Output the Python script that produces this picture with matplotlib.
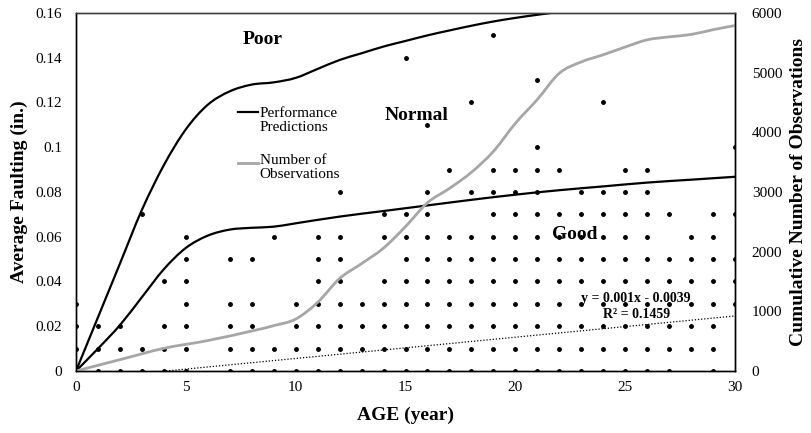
import matplotlib
matplotlib.use("Agg")
import matplotlib.pyplot as plt
from matplotlib.path import Path
from matplotlib.patches import PathPatch

plt.rcParams['font.family'] = ['Liberation Serif', 'DejaVu Serif']

# observed faulting, ages (year) at which a dot appears for each faulting level
ages_f000 = [0, 1, 2, 3, 4, 5] + list(range(7, 28)) + [29]
ages_f001 = [0, 1, 2, 3, 4, 5] + list(range(7, 30))
ages_f002 = [0, 1, 2, 4, 5, 7, 8] + list(range(10, 30))
ages_f003 = [0, 5, 7, 8] + list(range(10, 31))
ages_f004 = [4, 5, 11, 12] + list(range(14, 31))
ages_f005 = [5, 7, 8, 11, 12] + list(range(15, 31))
ages_f006 = [5, 9, 11, 12] + list(range(14, 27)) + [28, 29]
ages_f007 = [3, 14, 15, 16] + list(range(19, 28)) + [29, 30]
ages_f008 = [12, 16, 18, 19, 20, 21, 23, 24, 25, 26]
ages_f009 = [17, 19, 20, 21, 22, 25, 26]
ages_f010 = [21, 30]
ages_f011 = [16]
ages_f012 = [18, 24]
ages_f013 = [21]
ages_f014 = [15]
ages_f015 = [19]
fault_levels = [0.0, 0.01, 0.02, 0.03, 0.04, 0.05, 0.06, 0.07,
                0.08, 0.09, 0.10, 0.11, 0.12, 0.13, 0.14, 0.15]

# performance prediction curves
upper_age = [0, 1, 2, 3, 4, 5, 6, 7, 8, 9, 10, 11, 12, 13, 14, 15, 16, 17,
             18, 19, 20, 21, 22, 23]
upper_fault = [0, 0.024, 0.048, 0.072, 0.092, 0.108, 0.119, 0.125, 0.128,
               0.129, 0.131, 0.135, 0.139, 0.142, 0.145, 0.1475, 0.150,
               0.1522, 0.1543, 0.1562, 0.1578, 0.1592, 0.1605, 0.1618]
lower_age = [0, 1, 2, 3, 4, 5, 6, 7, 8, 9, 10, 12, 14, 16, 18, 20, 22, 24,
             26, 28, 30]
lower_fault = [0, 0.010, 0.0205, 0.033, 0.0455, 0.055, 0.0605, 0.0632, 0.064,
               0.0645, 0.066, 0.069, 0.0715, 0.074, 0.0765, 0.0788, 0.0808,
               0.0825, 0.0842, 0.0855, 0.0868]

# cumulative number of observations
obs_age = [0, 2, 4, 6, 8, 9, 10, 11, 12, 13, 14, 15, 16, 17, 18, 19, 20, 21,
           22, 23, 24, 25, 26, 27, 28, 29, 30]
obs_count = [0, 190, 380, 510, 670, 760, 870, 1150, 1550, 1800, 2060, 2420,
             2820, 3060, 3330, 3680, 4150, 4550, 4990, 5180, 5300, 5430,
             5550, 5600, 5640, 5720, 5790]

# linear trend end points
trend_age = [4.1, 30]
trend_fault = [0.0, 0.0246]


def smooth_path(xs, ys):
    # Excel style "smoothed line": cubic bezier through every point
    pts = list(zip(xs, ys))
    n = len(pts)
    verts = [pts[0]]
    codes = [Path.MOVETO]
    for i in range(n - 1):
        p0 = pts[i - 1] if i > 0 else pts[i]
        p1 = pts[i]
        p2 = pts[i + 1]
        p3 = pts[i + 2] if i + 2 < n else pts[i + 1]
        c1 = (p1[0] + (p2[0] - p0[0]) / 6, p1[1] + (p2[1] - p0[1]) / 6)
        c2 = (p2[0] - (p3[0] - p1[0]) / 6, p2[1] - (p3[1] - p1[1]) / 6)
        verts += [c1, c2, p2]
        codes += [Path.CURVE4] * 3
    return Path(verts, codes)


all_rows = [ages_f000, ages_f001, ages_f002, ages_f003, ages_f004, ages_f005,
            ages_f006, ages_f007, ages_f008, ages_f009, ages_f010, ages_f011,
            ages_f012, ages_f013, ages_f014, ages_f015]
dot_x = []
dot_y = []
for lvl, row in zip(fault_levels, all_rows):
    dot_x += row
    dot_y += [lvl] * len(row)

fig = plt.figure(figsize=(8.12, 4.33), dpi=100)
ax = fig.add_axes([0.0936, 0.1432, 0.8116, 0.8268])

ax.plot(dot_x, dot_y, 'o', color='black', ms=2.5, ls='none', zorder=2)
ax.plot(trend_age, trend_fault, color='black', lw=0.9, ls=(0, (1, 1.5)), zorder=2)
ax.add_patch(PathPatch(smooth_path(upper_age, upper_fault), fill=False,
                       edgecolor='black', lw=1.6, zorder=3))
ax.add_patch(PathPatch(smooth_path(lower_age, lower_fault), fill=False,
                       edgecolor='black', lw=1.6, zorder=3))

ax.set_xlim(0, 30)
ax.set_ylim(0, 0.16)
ax.set_xticks([0, 5, 10, 15, 20, 25, 30])
ax.set_yticks([0, 0.02, 0.04, 0.06, 0.08, 0.1, 0.12, 0.14, 0.16])
ax.set_yticklabels(['0', '0.02', '0.04', '0.06', '0.08', '0.1', '0.12', '0.14', '0.16'])
ax.tick_params(axis='both', length=0, labelsize=11)
ax.tick_params(axis='y', pad=10)
ax.tick_params(axis='x', pad=7)

ax2 = ax.twinx()
ax2.add_patch(PathPatch(smooth_path(obs_age, obs_count), fill=False,
                        edgecolor='#a6a6a6', lw=2))
ax2.set_ylim(0, 6000)
ax2.set_yticks([0, 1000, 2000, 3000, 4000, 5000, 6000])
ax2.tick_params(axis='y', length=0, labelsize=11, pad=12)

for a in (ax, ax2):
    for s in a.spines.values():
        s.set_color('black')
        s.set_linewidth(1)
    a.spines['top'].set_color('#404040')

ax.set_xlabel('AGE (year)', fontsize=14, fontweight='bold')
ax.xaxis.set_label_coords(0.5, -0.10)
ax.set_ylabel('Average Faulting (in.)', fontsize=14, fontweight='bold')
ax.yaxis.set_label_coords(-0.073, 0.5)
ax2.set_ylabel('Cumulative Number of Observations', fontsize=14, fontweight='bold')
ax2.yaxis.set_label_coords(1.083, 0.5)

ax.text(8.5, 0.148, 'Poor', fontsize=14, fontweight='bold', ha='center', va='center')
ax.text(15.5, 0.1144, 'Normal', fontsize=14, fontweight='bold', ha='center', va='center')
ax.text(22.7, 0.0608, 'Good', fontsize=14, fontweight='bold', ha='center', va='center')
ax.text(25.5, 0.0322, 'y = 0.001x - 0.0039', fontsize=10, fontweight='bold',
        ha='center', va='center')
ax.text(25.5, 0.0253, 'R² = 0.1459', fontsize=10, fontweight='bold',
        ha='center', va='center')

# legend drawn by hand (handle sits by first text line, like Excel)
ax2.plot([0.2458, 0.2762], [0.7235, 0.7235], color='black', lw=1.6,
         transform=ax2.transAxes, clip_on=False)
ax2.text(0.279, 0.699, 'Performance\nPredictions', fontsize=11, ha='left',
         va='center', linespacing=1.15, transform=ax2.transAxes)
ax2.plot([0.2458, 0.2762], [0.581, 0.581], color='#a6a6a6', lw=2,
         transform=ax2.transAxes, clip_on=False)
ax2.text(0.279, 0.568, 'Number of\nObservations', fontsize=11, ha='left',
         va='center', linespacing=1.15, transform=ax2.transAxes)

fig.savefig('out.png', dpi=100)
